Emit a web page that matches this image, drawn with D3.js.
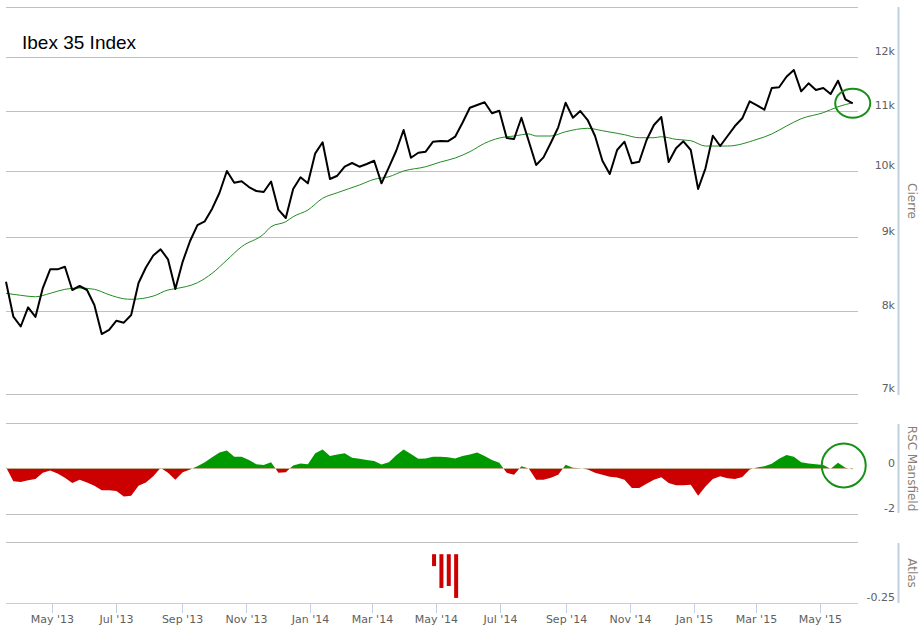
<!DOCTYPE html>
<html>
<head>
<meta charset="utf-8">
<script src="https://cdn.jsdelivr.net/npm/d3@7"></script>
<style>
  html, body { margin: 0; padding: 0; background: #fff; }
  svg { display: block; }
</style>
</head>
<body>
<svg id="chart" width="924" height="629"></svg>
<script>
// ---------------- DATA ----------------
const title = "Ibex 35 Index";
const startDate = "2013-03-18"; // first weekly close
const closeVals = [
  8377, 7921, 7798, 8041, 7918, 8293, 8545, 8545, 8581, 8267,
  8320, 8267, 8071, 7705, 7755, 7871, 7846, 7943, 8360, 8570,
  8736, 8823, 8683, 8280, 8652, 8941, 9172, 9227, 9415, 9659,
  10000, 9815, 9837, 9747, 9685, 9670, 9833, 9400, 9276, 9716,
  9900, 9805, 10287, 10470, 9873, 9925, 10069, 10129, 10069, 10113,
  10166, 9805, 10059, 10330, 10678, 10215, 10297, 10314, 10480, 10492,
  10487, 10564, 10803, 11065, 11114, 11162, 10967, 11012, 10542, 10525,
  10890, 10487, 10096, 10221, 10463, 10724, 11154, 10890, 11007, 10850,
  10576, 10166, 9952, 10342, 10480, 10124, 10150, 10508, 10764, 10902,
  10145, 10370, 10487, 10342, 9716, 10043, 10581, 10408, 10576, 10746,
  10880, 11179, 11108, 11030, 11420, 11433, 11628, 11753, 11360, 11506,
  11383, 11420, 11311, 11554, 11215, 11144
];
// moving average (read at these week indices)
const maWeeks = [0, 2, 4, 6, 8, 10, 12, 14, 16, 17, 20, 22, 23, 26, 28, 30, 32, 35, 36, 38,
  39, 41, 43, 45, 48, 50, 52, 54, 57, 59, 61, 63, 65, 67, 69, 71, 72, 74, 76, 79,
  81, 83, 84, 86, 88, 89, 91, 93, 95, 98, 102, 104, 106, 108, 111, 113, 115];
const maVals = [8223, 8197, 8178, 8223, 8276, 8293, 8276, 8205, 8152, 8145, 8187, 8267, 8284, 8364, 8491, 8673, 8860, 9041, 9148, 9221,
  9295, 9395, 9573, 9659, 9779, 9868, 9909, 10000, 10069, 10145, 10210, 10314, 10453, 10542, 10576, 10610, 10576, 10576, 10649, 10707,
  10666, 10622, 10598, 10547, 10547, 10564, 10520, 10497, 10408, 10408, 10520, 10610, 10746, 10873, 10978, 11083, 11154];
const rscVals = [
  0.06, -0.56, -0.59, -0.52, -0.46, -0.19, -0.09, -0.22, -0.41, -0.64,
  -0.49, -0.61, -0.76, -0.96, -0.96, -0.99, -1.23, -1.2, -0.76, -0.61,
  -0.34, 0.03, -0.19, -0.49, -0.16, -0.04, 0.1, 0.28, 0.5, 0.7,
  0.79, 0.52, 0.52, 0.37, 0.19, 0.15, 0.28, -0.19, -0.16, 0.13,
  0.22, 0.19, 0.67, 0.84, 0.55, 0.62, 0.67, 0.47, 0.43, 0.37,
  0.33, 0.18, 0.28, 0.58, 0.84, 0.64, 0.43, 0.44, 0.52, 0.52,
  0.5, 0.44, 0.55, 0.61, 0.7, 0.55, 0.37, 0.25, -0.19, -0.27,
  0.1, 0, -0.49, -0.49, -0.41, -0.28, 0.16, 0.03, 0.01, -0.04,
  -0.19, -0.27, -0.36, -0.4, -0.49, -0.86, -0.86, -0.67, -0.49, -0.39,
  -0.64, -0.74, -0.74, -0.71, -1.2, -0.79, -0.46, -0.34, -0.43, -0.46,
  -0.37, -0.04, 0.04, 0.1, 0.21, 0.43, 0.59, 0.52, 0.28, 0.22,
  0.19, 0.15, -0.01, 0.25, 0.03, -0.03
];
const atlasWeeks = [58, 59, 60, 61];
const atlasVals = [-0.061, -0.173, -0.163, -0.224];
const priceTicks = [7000, 8000, 9000, 10000, 11000, 12000, 13000];
const priceTickLabels = ["7k", "8k", "9k", "10k", "11k", "12k", ""];
const rscTicks = [-2, 0, 2];
const rscTickLabels = ["-2", "0", ""];
const atlasTicks = [-0.25];
const atlasTickLabels = ["-0.25"];
const axisTitles = ["Cierre", "RSC Mansfield", "Atlas"];

// ---------------- LAYOUT ----------------
const svg = d3.select("#chart");
const plotL = 6, plotR = 858;
const axisX = 898;
const labelFont = "'DejaVu Sans', Verdana, sans-serif";

const parse = d3.utcParse("%Y-%m-%d");
const t0 = parse(startDate);
const dates = closeVals.map((_, i) => d3.utcDay.offset(t0, i * 7));

const x = d3.scaleUtc()
  .domain([t0, d3.utcDay.offset(t0, 810)])
  .range([plotL, plotR]);

const yP = d3.scaleLog().domain([7000, 13000]).range([394, 7]);
const yR = d3.scaleLinear().domain([-2, 2]).range([514, 423]);
const yA = d3.scaleLinear().domain([-0.25, 0.0625]).range([603, 542]);

const grid = svg.append("g");
function gridLine(y) {
  grid.append("line").attr("x1", plotL).attr("x2", plotR)
    .attr("y1", Math.round(y) + 0.5).attr("y2", Math.round(y) + 0.5)
    .attr("stroke", "#C0C0C0").attr("stroke-width", 1);
}
priceTicks.forEach(v => gridLine(yP(v)));
gridLine(yR(2)); gridLine(yR(-2));
gridLine(yA.range()[1]);

// right axes
function rightAxis(scale, ticks, labels, y0, y1, titleText) {
  const g = svg.append("g");
  g.append("line").attr("x1", axisX + 0.5).attr("x2", axisX + 0.5)
    .attr("y1", y0).attr("y2", y1).attr("stroke", "#C0D0E0").attr("stroke-width", 2);
  ticks.forEach((v, i) => {
    if (!labels[i]) return;
    g.append("text").attr("x", axisX - 3).attr("y", scale(v) - 2)
      .attr("text-anchor", "end").attr("font-family", labelFont)
      .attr("font-size", 11).attr("fill", "#606060").text(labels[i]);
  });
  const cy = (y0 + y1) / 2;
  g.append("text").attr("transform", `translate(${axisX + 10},${cy}) rotate(90)`)
    .attr("text-anchor", "middle").attr("font-family", labelFont)
    .attr("font-size", 12).attr("fill", "#8a7f77").text(titleText);
}
rightAxis(yP, priceTicks, priceTickLabels, 7, 395, axisTitles[0]);
rightAxis(yR, rscTicks, rscTickLabels, 424, 513, axisTitles[1]);
rightAxis(yA, atlasTicks, atlasTickLabels, 543, 603, axisTitles[2]);

// x axis
const xg = svg.append("g").attr("transform", "translate(0,603)");
xg.append("line").attr("x1", plotL).attr("x2", plotR).attr("y1", 0.5).attr("y2", 0.5)
  .attr("stroke", "#C0D0E0").attr("stroke-width", 1);
const xTicks = x.ticks(d3.utcMonth.every(2)).filter(d => d.getUTCMonth() % 2 === 0);
const fmt = d3.utcFormat("%b '%y");
xTicks.forEach(d => {
  const px = Math.round(x(d)) + 0.5;
  xg.append("line").attr("x1", px).attr("x2", px).attr("y1", 0).attr("y2", 10)
    .attr("stroke", "#C0D0E0").attr("stroke-width", 1);
  xg.append("text").attr("x", px).attr("y", 20).attr("text-anchor", "middle")
    .attr("font-family", labelFont).attr("font-size", 11).attr("fill", "#606060")
    .text(fmt(d));
});

// ---- RSC area ----
const defs = svg.append("defs");
defs.append("clipPath").attr("id", "clipPos").append("rect")
  .attr("x", plotL).attr("y", 423).attr("width", plotR - plotL).attr("height", yR(0) - 423);
defs.append("clipPath").attr("id", "clipNeg").append("rect")
  .attr("x", plotL).attr("y", yR(0)).attr("width", plotR - plotL).attr("height", 514 - yR(0));
const rscData = rscVals.map((v, i) => ({ d: dates[i], v }));
const rscArea = d3.area().x(p => x(p.d)).y0(yR(0)).y1(p => yR(p.v));
svg.append("path").datum(rscData).attr("d", rscArea)
  .attr("fill", "#009900").attr("clip-path", "url(#clipPos)");
svg.append("path").datum(rscData).attr("d", rscArea)
  .attr("fill", "#CC0000").attr("clip-path", "url(#clipNeg)");

// ---- Atlas bars ----
atlasVals.forEach((v, i) => {
  const cx = x(dates[atlasWeeks[i]]);
  svg.append("rect").attr("x", cx - 2 + 1).attr("width", 4)
    .attr("y", yA(0)).attr("height", yA(v) - yA(0)).attr("fill", "#CC0000");
});

// ---- MA line ----
const maData = maWeeks.map((w, i) => ({ d: dates[w], v: maVals[i] }));
svg.append("path").datum(maData)
  .attr("d", d3.line().x(p => x(p.d)).y(p => yP(p.v)).curve(d3.curveMonotoneX))
  .attr("fill", "none").attr("stroke", "#228B22").attr("stroke-width", 1);

// ---- price line ----
const priceData = closeVals.map((v, i) => ({ d: dates[i], v }));
svg.append("path").datum(priceData)
  .attr("d", d3.line().x(p => x(p.d)).y(p => yP(p.v)))
  .attr("fill", "none").attr("stroke", "#000").attr("stroke-width", 2)
  .attr("stroke-linejoin", "round");

// ---- annotation circles on last point ----
const last = closeVals.length - 1;
svg.append("ellipse").attr("cx", x(dates[last])).attr("cy", yP(closeVals[last]))
  .attr("rx", 17.5).attr("ry", 14.5)
  .attr("fill", "none").attr("stroke", "#169016").attr("stroke-width", 2);
svg.append("circle").attr("cx", x(dates[last]) - 9).attr("cy", yR(0) - 3)
  .attr("r", 22)
  .attr("fill", "none").attr("stroke", "#169016").attr("stroke-width", 2);

// ---- title ----
svg.append("text").attr("x", 22).attr("y", 49)
  .attr("font-family", "'Liberation Sans', Arial, sans-serif")
  .attr("font-size", 19).attr("fill", "#000").text(title);
</script>
</body>
</html>
